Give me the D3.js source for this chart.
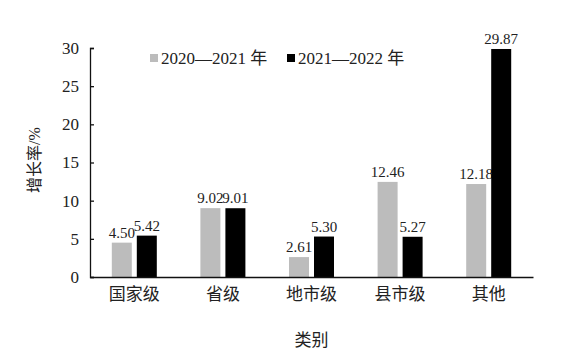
<!DOCTYPE html>
<html>
<head>
<meta charset="utf-8">
<script src="https://cdn.jsdelivr.net/npm/d3@7"></script>
<style>
  body { margin: 0; background: #fff; }
  .serif { font-family: "Liberation Serif", "Times New Roman", Times, "DejaVu Serif", serif; }
  .cjk { font-family: "Liberation Serif", "Times New Roman", "DejaVu Serif", "Noto Sans CJK SC", serif; }
</style>
</head>
<body>
<div id="chart"></div>
<script>
// categories and the two series (growth rate, %)
const categories = ["国家级", "省级", "地市级", "县市级", "其他"];
const seriesNames = ["2020—2021 年", "2021—2022 年"];
const values2021 = [4.50, 9.02, 2.61, 12.46, 12.18];
const values2022 = [5.42, 9.01, 5.30, 5.27, 29.87];
const yTicks = [0, 5, 10, 15, 20, 25, 30];

const width = 564, height = 354;
const margin = { left: 90, right: 31, top: 48, bottom: 77 };
const colors = ["#bcbcbc", "#000000"];

const svg = d3.select("#chart").append("svg")
    .attr("width", width)
    .attr("height", height);

const x = d3.scaleBand()
    .domain(categories)
    .range([margin.left, width - margin.right]);

const y = d3.scaleLinear()
    .domain([0, 30])
    .range([height - margin.bottom, margin.top]);

const barW = 20, gap = 5;
const series = [values2021, values2022];

// bars + value labels
series.forEach((vals, s) => {
    const off = s === 0 ? -(gap / 2 + barW) : gap / 2;
    const g = svg.append("g");
    g.selectAll("rect")
        .data(vals)
        .join("rect")
        .attr("x", (d, i) => x(categories[i]) + x.bandwidth() / 2 + off)
        .attr("y", d => y(d))
        .attr("width", barW)
        .attr("height", d => y(0) - y(d))
        .attr("fill", colors[s]);
    g.selectAll("text")
        .data(vals)
        .join("text")
        .attr("class", "serif")
        .attr("x", (d, i) => x(categories[i]) + x.bandwidth() / 2 + off + barW / 2)
        .attr("y", d => y(d) - 5)
        .attr("text-anchor", "middle")
        .style("font-size", "15px")
        .attr("fill", "#222")
        .text(d => d.toFixed(2));
});

// y axis (ticks inward)
const yAxis = svg.append("g")
    .attr("transform", `translate(${margin.left},0)`)
    .call(d3.axisRight(y).tickValues(yTicks).tickSize(4).tickFormat(d3.format("d")));
yAxis.attr("font-family", null);
yAxis.select(".domain").attr("stroke", "#111").attr("stroke-width", 1.3);
yAxis.selectAll(".tick line").attr("stroke", "#111").attr("stroke-width", 1.3);
yAxis.selectAll(".tick text")
    .attr("class", "serif")
    .attr("x", -11)
    .attr("text-anchor", "end")
    .style("font-size", "17px")
    .attr("fill", "#222");

// x axis line
const xAxis = svg.append("g")
    .attr("transform", `translate(0,${y(0)})`)
    .call(d3.axisBottom(x).tickSize(0).tickPadding(11));
xAxis.attr("font-family", null);
xAxis.select(".domain").attr("stroke", "#111").attr("stroke-width", 1.3);
xAxis.selectAll(".tick text")
    .attr("class", "cjk")
    .style("font-size", "17px")
    .attr("fill", "#222");

// axis titles
svg.append("text")
    .attr("class", "cjk")
    .attr("transform", `translate(36,160) rotate(-90)`)
    .attr("text-anchor", "middle")
    .attr("dominant-baseline", "middle")
    .style("font-size", "16px")
    .attr("fill", "#222")
    .text("增长率/%");

svg.append("text")
    .attr("class", "cjk")
    .attr("x", x("地市级") + x.bandwidth() / 2)
    .attr("y", 346)
    .attr("text-anchor", "middle")
    .style("font-size", "17px")
    .attr("fill", "#222")
    .text("类别");

// legend
const legendX = [150, 287];
const legend = svg.append("g")
    .selectAll("g")
    .data(seriesNames)
    .join("g")
    .attr("transform", (d, i) => `translate(${legendX[i]},58)`);
legend.append("rect")
    .attr("x", 0).attr("y", -4)
    .attr("width", 8).attr("height", 8)
    .attr("fill", (d, i) => colors[i]);
legend.append("text")
    .attr("class", "cjk")
    .attr("x", 11)
    .attr("dy", "0.35em")
    .style("font-size", "17px")
    .attr("fill", "#222")
    .text(d => d);
</script>
</body>
</html>
